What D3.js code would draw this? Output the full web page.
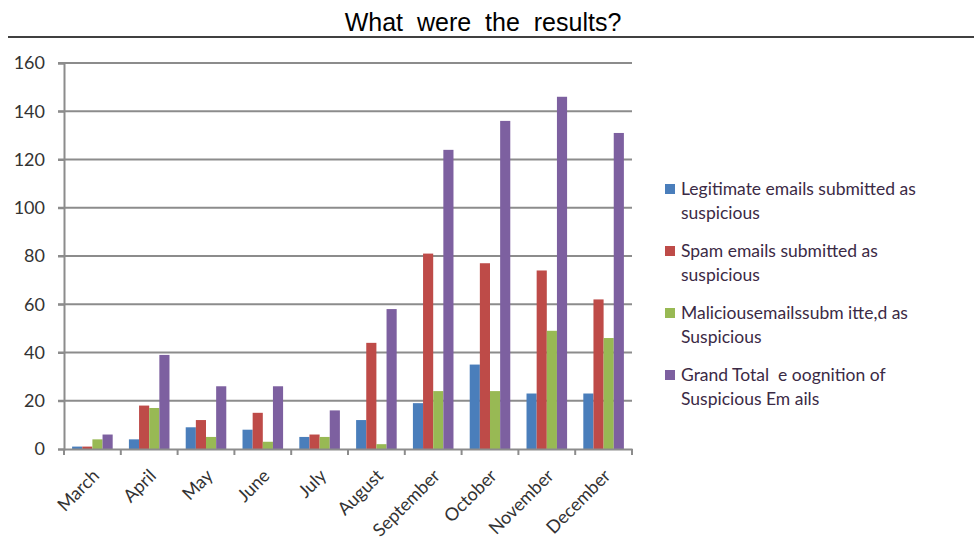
<!DOCTYPE html>
<html>
<head>
<meta charset="utf-8">
<script src="https://cdn.jsdelivr.net/npm/d3@7"></script>
<style>
  body { margin: 0; background: #fff; }
  svg { display: block; }
</style>
</head>
<body>
<svg id="chart" width="974" height="555"></svg>
<script>
// data
const months = ["March","April","May","June","July","August","September","October","November","December"];
const legitimate = [1, 4, 9, 8, 5, 12, 19, 35, 23, 23];
const spam       = [1, 18, 12, 15, 6, 44, 81, 77, 74, 62];
const malicious  = [4, 17, 5, 3, 5, 2, 24, 24, 49, 46];
const grandTotal = [6, 39, 26, 26, 16, 58, 124, 136, 146, 131];
const yTicks = [0, 20, 40, 60, 80, 100, 120, 140, 160];

const seriesNames = [
  ["Legitimate emails submitted as", "suspicious"],
  ["Spam emails submitted as", "suspicious"],
  ["Maliciousemailssubm itte,d as", "Suspicious"],
  ["Grand Total  e oognition of", "Suspicious Em ails"]
];
const seriesValues = [legitimate, spam, malicious, grandTotal];
const colors = ["#4a7ebb", "#be4b48", "#98b954", "#7d60a0"];

const svg = d3.select("#chart");

// title + rule
svg.append("text")
  .attr("x", 483).attr("y", 31)
  .attr("text-anchor", "middle")
  .attr("font-family", "Liberation Sans, Arial, sans-serif")
  .attr("font-size", 25)
  .attr("word-spacing", 7)
  .attr("fill", "#000")
  .text("What were the results?");

svg.append("line")
  .attr("x1", 8).attr("x2", 974)
  .attr("y1", 37).attr("y2", 37)
  .attr("stroke", "#000").attr("stroke-width", 1.5);

const plot = { left: 64, right: 632, top: 63, bottom: 449 };

const x = d3.scaleBand().domain(months).range([plot.left, plot.right]).padding(0);
const xi = d3.scaleBand().domain(d3.range(4)).range([0, x.bandwidth()])
  .paddingInner(0).paddingOuter(0.8);
const y = d3.scaleLinear().domain([0, 160]).range([plot.bottom, plot.top]);

// gridlines
svg.append("g")
  .selectAll("line")
  .data(yTicks.filter(d => d > 0))
  .join("line")
    .attr("x1", plot.left - 6).attr("x2", plot.right)
    .attr("y1", d => y(d)).attr("y2", d => y(d))
    .attr("stroke", "#8c8c8c").attr("stroke-width", 2);

// bars
const groups = svg.append("g")
  .selectAll("g")
  .data(months)
  .join("g")
    .attr("transform", d => `translate(${x(d)},0)`);

groups.selectAll("rect")
  .data((m, i) => seriesValues.map((vals, s) => ({ s, v: vals[i] })))
  .join("rect")
    .attr("x", d => xi(d.s))
    .attr("width", xi.bandwidth())
    .attr("y", d => y(d.v))
    .attr("height", d => plot.bottom - y(d.v))
    .attr("fill", d => colors[d.s]);

// y axis
const yAxis = svg.append("g")
  .attr("transform", `translate(${plot.left},0)`)
  .call(d3.axisLeft(y).tickValues(yTicks).tickSize(6).tickPadding(13));
yAxis.select(".domain").attr("stroke", "#8c8c8c").attr("stroke-width", 2);
yAxis.selectAll(".tick line").attr("stroke", "#8c8c8c").attr("stroke-width", 2);
yAxis.selectAll("text")
  .attr("font-family", "Lato, Liberation Sans, sans-serif")
  .attr("font-size", 18)
  .attr("fill", "#333");

// x axis
const xAxis = svg.append("g")
  .attr("transform", `translate(0,${plot.bottom})`)
  .call(d3.axisBottom(x).tickSize(0).tickPadding(0));
xAxis.select(".domain").attr("stroke", "#8c8c8c").attr("stroke-width", 2);
xAxis.selectAll("text")
  .attr("font-family", "Lato, Liberation Sans, sans-serif")
  .attr("font-size", 18)
  .attr("fill", "#333")
  .attr("text-anchor", "end")
  .attr("dy", null)
  .attr("transform", "translate(8,28) rotate(-45)");

// tick marks at band boundaries
svg.append("g")
  .selectAll("line")
  .data(months.map(m => x(m)).concat([plot.right]))
  .join("line")
    .attr("x1", d => d).attr("x2", d => d)
    .attr("y1", plot.bottom).attr("y2", plot.bottom + 6)
    .attr("stroke", "#8c8c8c").attr("stroke-width", 2);

// legend
const legend = svg.append("g").attr("transform", "translate(665,184)");
seriesNames.forEach((lines, i) => {
  const row = legend.append("g").attr("transform", `translate(0,${i * 62})`);
  row.append("rect")
    .attr("width", 10).attr("height", 10)
    .attr("fill", colors[i]);
  lines.forEach((t, j) => {
    row.append("text")
      .attr("x", 16).attr("y", 11 + j * 24)
      .attr("font-family", "Lato, Liberation Sans, sans-serif")
      .attr("font-size", 17.5)
      .attr("fill", "#3b2a45")
      .style("white-space", "pre")
      .text(t);
  });
});
</script>
</body>
</html>
